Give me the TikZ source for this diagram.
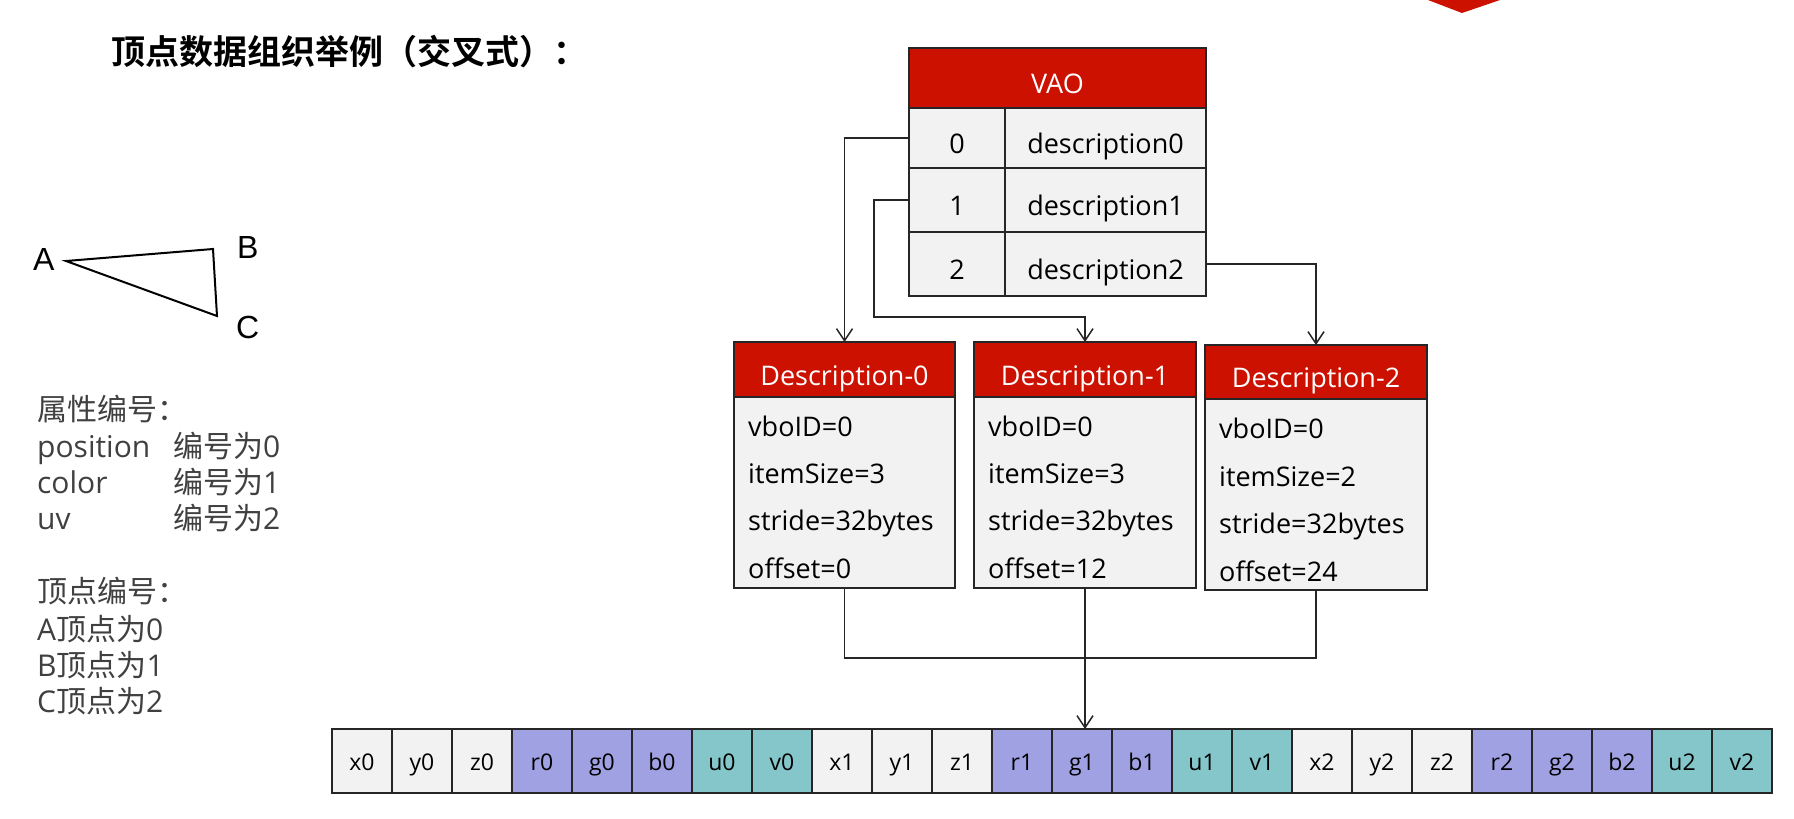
\documentclass[tikz,border=0pt]{standalone}
\usepackage{fontspec}
\setmainfont{Open Sans}
\newfontfamily\cjk{Noto Sans CJK SC}
\newfontfamily\cjkbold{Noto Sans CJK SC Bold}
\newfontfamily\arialf{Liberation Sans}
\usetikzlibrary{arrows.meta}
\definecolor{hdrred}{RGB}{204,17,0}
\definecolor{bodygray}{RGB}{242,242,242}
\definecolor{lav}{RGB}{160,161,226}
\definecolor{teal2}{RGB}{132,198,202}
\definecolor{bord}{RGB}{38,38,38}
\definecolor{txtgray}{RGB}{64,64,64}
\begin{document}
\begin{tikzpicture}[x=1pt,y=-1pt,
 box/.style={draw=bord,line width=1.8pt,inner sep=0pt,outer sep=0pt,anchor=north west},
 hdr/.style={box,fill=hdrred,text=white,font=\fontsize{27}{32}\selectfont,text height=31pt,text depth=0pt},
 cell/.style={box,fill=bodygray,font=\fontsize{27}{32}\selectfont,text height=31pt,text depth=0pt},
 body/.style={box,fill=bodygray},
 item/.style={anchor=base west,inner sep=0pt,font=\fontsize{27}{32}\selectfont},
 arr/.style={box,font=\fontsize{23}{28}\selectfont,text height=18pt,text depth=0pt,minimum width=60pt,minimum height=64pt},
 conn/.style={draw=bord,line width=1.5pt},
 tip/.style={-{Straight Barb[length=12pt,width=16pt,line width=1.5pt]}},
 lefttxt/.style={anchor=base west,inner sep=0pt,text=txtgray,font=\fontsize{30}{36}\selectfont},
 vlab/.style={anchor=base west,inner sep=0pt,font=\arialf\fontsize{32}{38}\selectfont}
]
\fill[white] (0,0) rectangle (1794,819);
\useasboundingbox (0,0) rectangle (1794,819);

% logo fragment
\fill[hdrred] (1428,0) -- (1500,0) -- (1462,13) -- cycle;

% title
\node[anchor=base west,inner sep=0pt,font=\cjkbold\fontsize{34}{40}\selectfont] (title) at (111,64) {顶点数据组织举例（交叉式）：};

% triangle
\coordinate (A) at (66,261);
\coordinate (B) at (213,249);
\coordinate (C) at (217,316);
\draw[line width=2pt,line join=miter] (A) -- (B) -- (C) -- cycle;
\node[vlab] (la) at (33,270) {A};
\node[vlab] (lb) at (237,258) {B};
\node[vlab] (lc) at (236,338) {C};

% left text
\node[lefttxt] (p0) at (37,420) {\cjk 属性编号：};
\node[lefttxt] (p1) at (37,457) {position};
\node[lefttxt] (p1n) at (173,457) {{\cjk 编号为}0};
\node[lefttxt] (p2) at (37,493) {color};
\node[lefttxt] (p2n) at (173,493) {{\cjk 编号为}1};
\node[lefttxt] (p3) at (37,529) {uv};
\node[lefttxt] (p3n) at (173,529) {{\cjk 编号为}2};
\node[lefttxt] (v0) at (37,602) {\cjk 顶点编号：};
\node[lefttxt] (v1) at (37,640) {A{\cjk 顶点为}0};
\node[lefttxt] (v2) at (37,676) {B{\cjk 顶点为}1};
\node[lefttxt] (v3) at (37,712) {C{\cjk 顶点为}2};

% VAO table
\node[hdr,minimum width=297pt,minimum height=60pt] (vaoh) at (909,48) {VAO};
\node[cell,minimum width=96pt,minimum height=60pt] (r0i) at (909,108) {0};
\node[cell,minimum width=201pt,minimum height=60pt] (r0d) at (1005,108) {description0};
\node[cell,minimum width=96pt,minimum height=64pt] (r1i) at (909,168) {1};
\node[cell,minimum width=201pt,minimum height=64pt] (r1d) at (1005,168) {description1};
\node[cell,minimum width=96pt,minimum height=64pt] (r2i) at (909,232) {2};
\node[cell,minimum width=201pt,minimum height=64pt] (r2d) at (1005,232) {description2};

% Description boxes
\node[hdr,minimum width=221pt,minimum height=55pt] (d0h) at (734,342) {Description-0};
\node[body,minimum width=221pt,minimum height=191pt] (d0b) at (734,397) {};
\node[item] (d0a) at (748,436) {vboID=0};
\node[item] (d0c) at (748,483) {itemSize=3};
\node[item] (d0d) at (748,530) {stride=32bytes};
\node[item] (d0e) at (748,578) {offset=0};

\node[hdr,minimum width=222pt,minimum height=55pt] (d1h) at (974,342) {Description-1};
\node[body,minimum width=222pt,minimum height=191pt] (d1b) at (974,397) {};
\node[item] (d1a) at (988,436) {vboID=0};
\node[item] (d1c) at (988,483) {itemSize=3};
\node[item] (d1d) at (988,530) {stride=32bytes};
\node[item] (d1e) at (988,578) {offset=12};

\node[hdr,minimum width=222pt,minimum height=54pt] (d2h) at (1205,345) {Description-2};
\node[body,minimum width=222pt,minimum height=191pt] (d2b) at (1205,399) {};
\node[item] (d2a) at (1219,438) {vboID=0};
\node[item] (d2c) at (1219,486) {itemSize=2};
\node[item] (d2d) at (1219,533) {stride=32bytes};
\node[item] (d2e) at (1219,581) {offset=24};

% array
\foreach \l [count=\i from 0] in {x0,y0,z0,r0,g0,b0,u0,v0,x1,y1,z1,r1,g1,b1,u1,v1,x2,y2,z2,r2,g2,b2,u2,v2}{
  \pgfmathtruncatemacro\m{mod(\i,8)}
  \ifnum\m<3 \def\cc{bodygray}\else\ifnum\m<6 \def\cc{lav}\else\def\cc{teal2}\fi\fi
  \node[arr,fill=\cc] (c\i) at (332+60*\i,729) {\l};
}

% connectors
\draw[conn,tip] (r0i.west) -| (d0h.north);
\coordinate (k1) at (874,317);
\draw[conn,tip] (r1i.west) -| (k1) -| (d1h.north);
\draw[conn,tip] (r2d.east) -| (d2h.north);
\coordinate (hl) at (0,658);
\draw[conn] (d0b.south) -- (d0b.south |- hl) -- (d2b.south |- hl) -- (d2b.south);
\draw[conn,tip] (d1b.south) -- (d1b.south |- c12.north);
\end{tikzpicture}
\end{document}
